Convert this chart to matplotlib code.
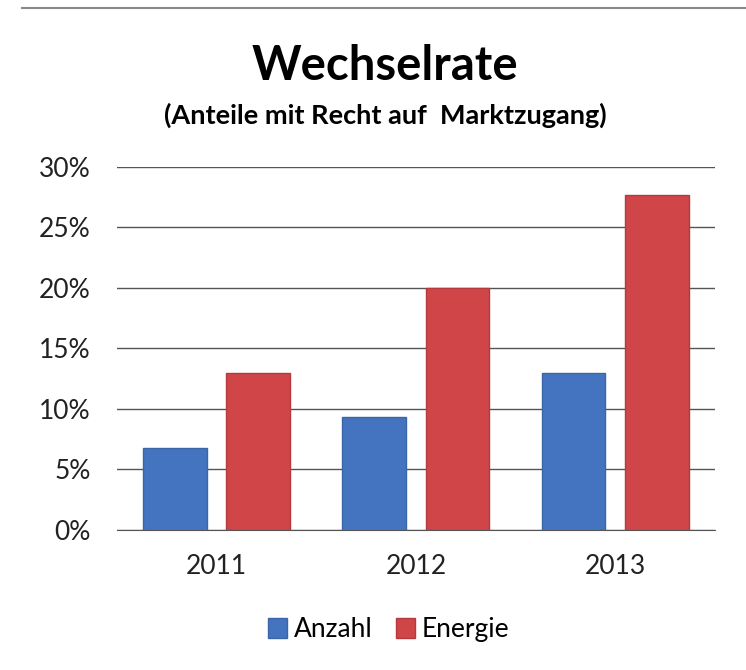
import matplotlib
matplotlib.use("Agg")
import matplotlib.pyplot as plt
from matplotlib.lines import Line2D
import numpy as np

# data
years = ["2011", "2012", "2013"]
anzahl = [6.8, 9.3, 13.0]
energie = [13.0, 20.0, 27.7]
yticks = [0, 5, 10, 15, 20, 25, 30]

plt.rcParams['font.family'] = ['Lato', 'DejaVu Sans']

fig = plt.figure(figsize=(7.46, 6.70), dpi=100)
ax = fig.add_axes([0.157, 0.209, 0.801, 0.542])

x = np.arange(len(years))
w = 0.32
off = 0.209
ax.bar(x - off, anzahl, w, color="#4474bf", edgecolor="#3a66a8", lw=1, label="Anzahl", zorder=3)
ax.bar(x + off, energie, w, color="#cf4548", edgecolor="#b53a3d", lw=1, label="Energie", zorder=3)

ax.set_xlim(-0.5, 2.5)
ax.set_ylim(0, 30)
ax.set_yticks(yticks)
ax.set_yticklabels([f"{t}%" for t in yticks], fontsize=19, color="#222222")
ax.set_xticks(x)
ax.set_xticklabels(years, fontsize=19, color="#222222")
ax.tick_params(axis='y', length=0, pad=19)
ax.tick_params(axis='x', length=0, pad=17)
ax.grid(axis='y', color="#555555", lw=1, zorder=0)
for s in ["top", "right", "left"]:
    ax.spines[s].set_visible(False)
ax.spines["bottom"].set_color("#555555")

fig.text(0.516, 0.902, "Wechselrate", ha="center", va="center", fontsize=34, fontweight="bold")
fig.text(0.516, 0.828, "(Anteile mit Recht auf  Marktzugang)", ha="center", va="center",
         fontsize=19.5, fontweight="bold")

ax.legend(loc="center", bbox_to_anchor=(0.455, -0.275), ncol=2, frameon=False, fontsize=19,
          handlelength=0.7, handleheight=0.8, handletextpad=0.27, columnspacing=0.9)

fig.add_artist(Line2D([0.03, 1.0], [0.988, 0.988], color="#888888", lw=1.5))

fig.savefig("out.png", dpi=100)
